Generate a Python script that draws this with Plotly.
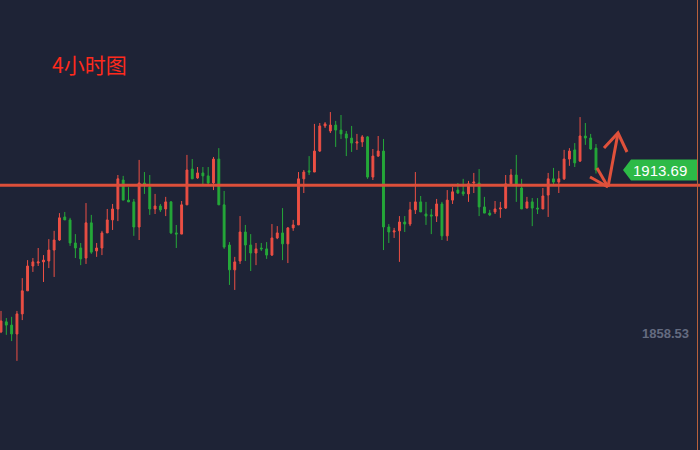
import plotly.graph_objects as go

# ---- data ----
opens = [1858.9, 1862.3, 1861.2, 1858.2, 1865.0, 1872.8, 1881.2, 1882.2, 1882.6, 1882.9,
         1886.6, 1890.0, 1897.8, 1896.8, 1889.0, 1887.3, 1883.9, 1895.8, 1886.3, 1887.3,
         1892.4, 1896.8, 1900.5, 1910.3, 1903.5, 1902.9, 1894.4, 1909.3, 1907.9, 1900.5,
         1901.5, 1900.5, 1902.9, 1892.4, 1892.0, 1901.9, 1914.0, 1911.0, 1912.7, 1911.7,
         1909.3, 1917.4, 1901.9, 1888.3, 1879.9, 1882.9, 1892.7, 1888.3, 1885.6, 1887.3,
         1887.0, 1884.9, 1890.7, 1892.4, 1888.7, 1894.1, 1895.1, 1910.7, 1913.4, 1913.0,
         1920.1, 1928.6, 1926.9, 1928.9, 1927.2, 1925.9, 1924.5, 1922.8, 1923.2, 1924.9,
         1911.3, 1918.4, 1920.1, 1894.4, 1892.7, 1893.1, 1896.1, 1895.4, 1900.2, 1902.9,
         1898.8, 1898.5, 1898.1, 1902.2, 1891.4, 1903.5, 1906.9, 1906.3, 1905.6, 1909.3,
         1909.3, 1901.2, 1899.1, 1899.5, 1900.5, 1900.8, 1909.0, 1912.0, 1907.6, 1900.8,
         1902.9, 1900.8, 1900.5, 1905.2, 1910.7, 1909.6, 1910.7, 1917.4, 1920.5, 1916.7,
         1925.2, 1924.5, 1921.1]
highs = [1866.0, 1863.6, 1864.0, 1866.0, 1877.1, 1883.2, 1883.9, 1887.3, 1884.9, 1890.3,
         1893.1, 1899.1, 1899.5, 1897.5, 1892.0, 1889.0, 1902.5, 1898.5, 1889.0, 1893.1,
         1900.5, 1902.2, 1912.0, 1911.7, 1907.9, 1903.9, 1917.1, 1913.0, 1912.0, 1905.6,
         1902.2, 1904.6, 1903.2, 1895.1, 1903.2, 1918.8, 1917.4, 1914.7, 1914.7, 1914.7,
         1918.1, 1921.1, 1906.6, 1889.3, 1884.3, 1898.1, 1895.1, 1892.0, 1889.0, 1889.0,
         1889.3, 1895.4, 1894.7, 1900.8, 1894.4, 1896.8, 1913.0, 1913.7, 1918.4, 1929.3,
         1929.6, 1929.9, 1933.3, 1930.3, 1932.3, 1926.9, 1928.6, 1925.9, 1925.5, 1925.2,
         1920.8, 1925.2, 1924.2, 1895.4, 1894.1, 1898.1, 1898.1, 1902.9, 1913.0, 1904.9,
         1902.9, 1900.5, 1903.9, 1902.9, 1906.9, 1907.9, 1909.3, 1910.7, 1910.0, 1912.7,
         1914.0, 1904.6, 1900.2, 1903.2, 1902.9, 1912.0, 1914.0, 1918.8, 1910.7, 1904.6,
         1904.2, 1904.2, 1907.6, 1912.7, 1914.4, 1913.4, 1920.5, 1921.1, 1922.8, 1931.6,
         1929.6, 1925.9, 1922.5]
lows = [1858.5, 1857.9, 1855.8, 1849.1, 1862.9, 1872.8, 1879.2, 1881.2, 1875.8, 1880.5,
        1877.5, 1889.7, 1896.8, 1888.0, 1883.9, 1881.5, 1881.9, 1885.3, 1884.3, 1884.9,
        1892.4, 1893.4, 1896.4, 1903.5, 1902.9, 1891.4, 1890.0, 1905.6, 1898.5, 1898.8,
        1899.5, 1898.1, 1892.0, 1887.3, 1892.0, 1901.9, 1910.7, 1910.7, 1908.6, 1908.6,
        1906.9, 1901.9, 1887.0, 1874.8, 1873.1, 1881.9, 1882.9, 1879.5, 1881.5, 1886.3,
        1883.6, 1884.6, 1890.3, 1883.2, 1882.2, 1893.1, 1895.1, 1905.9, 1912.0, 1913.0,
        1919.8, 1927.9, 1926.2, 1921.5, 1924.2, 1918.4, 1919.8, 1920.5, 1921.5, 1910.7,
        1910.3, 1918.1, 1886.6, 1889.0, 1890.7, 1882.6, 1892.7, 1894.7, 1898.8, 1899.5,
        1895.1, 1892.0, 1896.1, 1890.0, 1889.7, 1902.2, 1905.6, 1904.9, 1902.9, 1905.9,
        1898.1, 1899.1, 1898.1, 1898.8, 1897.5, 1900.5, 1909.0, 1902.9, 1900.5, 1900.8,
        1894.7, 1898.8, 1900.5, 1897.8, 1908.6, 1905.9, 1910.3, 1915.1, 1914.7, 1916.4,
        1922.2, 1920.5, 1912.5]
closes = [1862.6, 1861.2, 1858.2, 1865.0, 1872.8, 1881.2, 1882.6, 1882.6, 1883.2, 1886.6,
          1890.0, 1897.5, 1896.8, 1889.0, 1887.3, 1883.6, 1895.8, 1885.9, 1887.3, 1892.4,
          1896.8, 1900.5, 1910.7, 1903.5, 1902.9, 1894.4, 1909.3, 1908.6, 1900.5, 1901.5,
          1900.2, 1902.9, 1892.4, 1892.0, 1901.9, 1913.7, 1910.7, 1912.7, 1911.7, 1909.3,
          1917.4, 1901.9, 1887.6, 1879.9, 1882.6, 1892.7, 1888.3, 1885.6, 1887.0, 1887.0,
          1884.9, 1890.7, 1892.4, 1888.7, 1894.1, 1895.1, 1910.7, 1913.0, 1913.0, 1920.1,
          1928.6, 1929.3, 1928.9, 1927.2, 1925.9, 1924.5, 1922.8, 1923.2, 1924.9, 1911.3,
          1918.4, 1920.1, 1894.4, 1892.7, 1893.1, 1896.1, 1895.4, 1900.2, 1902.9, 1899.5,
          1898.1, 1898.1, 1902.2, 1891.4, 1903.5, 1906.3, 1905.9, 1905.6, 1909.0, 1909.6,
          1901.2, 1899.1, 1898.5, 1900.5, 1900.8, 1909.0, 1912.0, 1908.6, 1900.5, 1902.9,
          1900.8, 1900.5, 1904.9, 1910.7, 1909.6, 1910.7, 1917.4, 1920.1, 1916.1, 1925.2,
          1924.5, 1920.8, 1913.69]

title_text = "4小时图"
level_price = 1908.5
low_label = 1858.53

# ---- styling ----
BG = "#1e2336"
RED = "#ec4f44"
GREEN = "#25a839"
LINE = "#dd4f3a"
W, H = 700, 450
y_min, y_max = 1818.94, 1971.22
x_min, x_max = -0.19, 131.58

def py(price):  # price -> paper fraction
    return (price - y_min) / (y_max - y_min)

def pp(px, pyy):  # pixel -> paper coords
    return px / W, 1 - pyy / H

xs = list(range(len(closes)))

fig = go.Figure(go.Candlestick(
    x=xs, open=opens, high=highs, low=lows, close=closes,
    increasing=dict(line=dict(color=RED, width=1), fillcolor=RED),
    decreasing=dict(line=dict(color=GREEN, width=1), fillcolor=GREEN),
    whiskerwidth=0, hoverinfo="skip",
))

shapes = []
# horizontal level line
shapes.append(dict(type="line", xref="paper", yref="y", x0=0, x1=1,
                   y0=level_price, y1=level_price, line=dict(color=LINE, width=3)))
# right edge line
shapes.append(dict(type="line", xref="paper", yref="paper", x0=697.5 / W, x1=697.5 / W,
                   y0=0, y1=1, line=dict(color="#b8603c", width=1)))

# last price label (pentagon)
ly = 1 - py(closes[-1])  # fraction from top
lyp = ly * H
pts = [(623, lyp), (631, lyp - 10.5), (697, lyp - 10.5), (697, lyp + 10.5), (631, lyp + 10.5)]
path = "M " + " L ".join(f"{pp(a, b)[0]:.5f},{pp(a, b)[1]:.5f}" for a, b in pts) + " Z"
shapes.append(dict(type="path", xref="paper", yref="paper", path=path,
                   fillcolor="#2dba47", line=dict(width=0)))

# hand-drawn arrows
segs = [
    [(590, 177), (608, 187)],
    [(597, 168), (608, 187)],
    [(608, 187), (618, 133)],
    [(604, 148), (618, 133), (627, 152)],
]
for s in segs:
    d = "M " + " L ".join(f"{pp(a, b)[0]:.5f},{pp(a, b)[1]:.5f}" for a, b in s)
    shapes.append(dict(type="path", xref="paper", yref="paper", path=d,
                       line=dict(color="#e0513b", width=3)))

annotations = [
    dict(text=title_text, xref="paper", yref="paper", x=50 / W, y=1 - 64 / H,
         xanchor="left", yanchor="middle", showarrow=False,
         font=dict(family="Noto Sans CJK SC", size=21, color="#ff2a1c")),
    dict(text=f"{closes[-1]:.2f}", xref="paper", yref="y", x=660 / W, y=closes[-1],
         xanchor="center", yanchor="middle", showarrow=False,
         font=dict(family="Liberation Sans, Arial", size=15, color="#ffffff")),
    dict(text=f"<b>{low_label:.2f}</b>", xref="paper", yref="y", x=691 / W, y=low_label,
         xanchor="right", yanchor="middle", showarrow=False,
         font=dict(family="Liberation Sans, Arial", size=13, color="#646b80")),
]

fig.update_layout(
    width=W, height=H, margin=dict(l=0, r=0, t=0, b=0),
    paper_bgcolor=BG, plot_bgcolor=BG, showlegend=False,
    xaxis=dict(range=[x_min, x_max], visible=False, rangeslider=dict(visible=False),
               showgrid=False, zeroline=False, fixedrange=True),
    yaxis=dict(range=[y_min, y_max], visible=False, showgrid=False, zeroline=False),
    shapes=shapes, annotations=annotations, boxgap=0.5,
)

fig.write_html(
    "out.html",
    config={"displayModeBar": False},
    post_script="document.body.style.margin='0';document.body.style.background='%s';" % BG,
)
